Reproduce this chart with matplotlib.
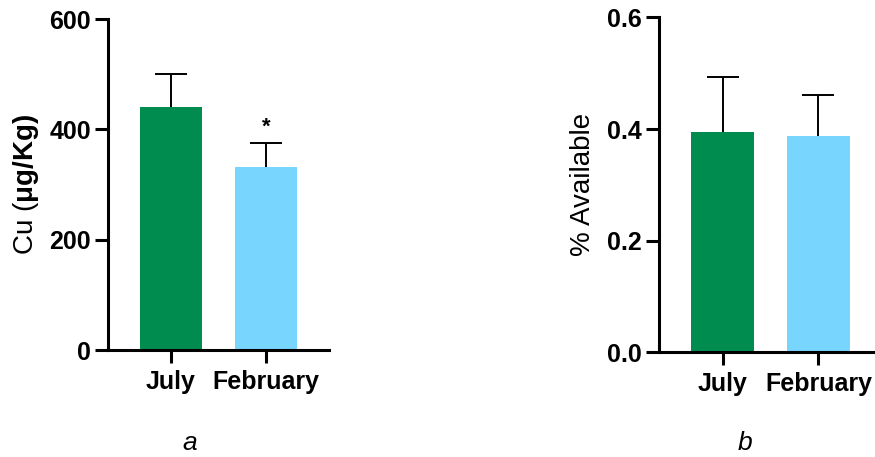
import matplotlib
matplotlib.use("Agg")
import matplotlib.pyplot as plt

months = ["July", "February"]
cu_mean = [440, 331]
cu_sem = [61, 45]
avail_mean = [0.394, 0.387]
avail_sem = [0.099, 0.074]
colors = ["#008C4F", "#77D5FE"]

plt.rcParams['font.family'] = ['Liberation Sans', 'DejaVu Sans']
plt.rcParams['mathtext.fontset'] = 'custom'
plt.rcParams['mathtext.rm'] = 'Liberation Sans'
plt.rcParams['mathtext.bf'] = 'Liberation Sans:bold'

fig = plt.figure(figsize=(8.75, 4.57), dpi=100)
ax1 = fig.add_axes([0.1234, 0.2341, 0.2526, 0.7243])
ax2 = fig.add_axes([0.7531, 0.229, 0.255, 0.733])


def style(ax, means, sems, ylim, yticks, fmt):
    x = range(len(months))
    ax.bar(x, means, width=0.66, color=colors, zorder=2)
    eb = ax.errorbar(x, means, yerr=[[0] * len(sems), sems], fmt='none',
                     ecolor='black', elinewidth=1.4, capsize=11.5,
                     capthick=1.4, zorder=1)
    # only the upper cap is wanted
    eb[1][0].set_visible(False)
    ax.set_xlim(-0.663, 1.663)
    ax.set_ylim(*ylim)
    ax.set_yticks(yticks)
    ax.set_yticklabels([fmt.format(v) for v in yticks])
    ax.set_xticks(list(x))
    ax.set_xticklabels(months)
    for s in ['top', 'right']:
        ax.spines[s].set_visible(False)
    for s in ['left', 'bottom']:
        ax.spines[s].set_linewidth(2.2)
    ax.tick_params(width=2.2, length=9.4, labelsize=18)
    ax.tick_params(axis='y', pad=3)
    ax.tick_params(axis='x', pad=5)
    for lbl in ax.get_xticklabels() + ax.get_yticklabels():
        lbl.set_fontweight('bold')


style(ax1, cu_mean, cu_sem, (0, 600), [0, 200, 400, 600], "{:.0f}")
style(ax2, avail_mean, avail_sem, (0, 0.6), [0.0, 0.2, 0.4, 0.6], "{:.1f}")

ax1.set_ylabel(r"Cu ($\mathbf{\mu g/Kg)}$", fontsize=20, labelpad=6)
ax2.set_ylabel("% Available", fontsize=20, labelpad=8)

ax1.text(1, cu_mean[1] + cu_sem[1] + 27, "*", ha='center', va='center',
         fontsize=16, fontweight='bold')

fig.text(190 / 875, 1 - 443 / 457, "a", ha='center', va='center',
         fontsize=19, style='italic')
fig.text(745 / 875, 1 - 443 / 457, "b", ha='center', va='center',
         fontsize=19, style='italic')

fig.savefig("out.png", dpi=100)
